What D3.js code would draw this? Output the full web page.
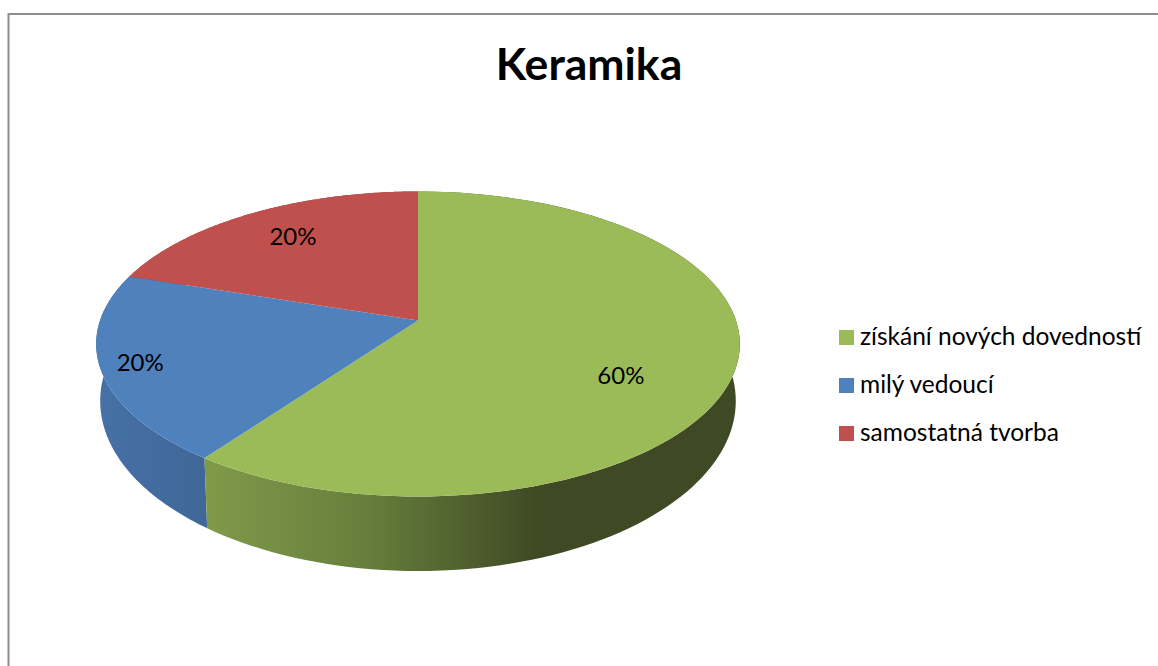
<!DOCTYPE html>
<html><head><meta charset="utf-8">
<script src="https://cdn.jsdelivr.net/npm/d3@7/dist/d3.min.js"></script>
<style>html,body{margin:0;padding:0;background:#fff}svg{display:block}text{font-family:Lato,"Open Sans",sans-serif;fill:#000}</style>
</head><body><script>
const title = "Keramika";
const categories = ["získání nových dovedností", "milý vedoucí", "samostatná tvorba"];
const shares = [60, 20, 20];
const colors = ["#9BBB59", "#4F81BD", "#C0504D"];

const W = 1158, H = 666;
const labelRadius = [0.65, 0.88, 0.73], labelShiftY = [25, 0, -3];
const svg = d3.select("body").append("svg").attr("width", W).attr("height", H);

const defs = svg.append("defs");
function grad(id, x1, x2, stops) {
  const g = defs.append("linearGradient").attr("id", id).attr("gradientUnits", "userSpaceOnUse")
    .attr("x1", x1).attr("x2", x2).attr("y1", 0).attr("y2", 0);
  stops.forEach(s => g.append("stop").attr("offset", s[0]).attr("stop-color", s[1]));
}
grad("side0", 205, 740, [[0, "#7F9A4A"], [0.30, "#667F3C"], [0.62, "#3F4A24"], [1, "#3F4923"]]);
grad("side1", 100, 210, [[0, "#4671A6"], [1, "#3F6696"]]);
grad("side2", 100, 420, [[0, "#9A403E"], [1, "#9A403E"]]);

// perspective projection of the unit circle
const topDisc = {cx: 418, y0: 320.5, A: 318, B: 148.9, k: -0.154};
const botDisc = {cx: 418, y0: 374.8, A: 314, B: 166, k: -0.154};
const proj = (p, a, r = 1) => {
  const u = Math.sin(a) * r, v = -Math.cos(a) * r, w = 1 + p.k * v;
  return [p.cx + p.A * u / w, p.y0 + p.B * v / w];
};
const arcAngles = (a0, a1) => d3.range(0, 121).map(i => a0 + (a1 - a0) * i / 120);
const line = d3.line();

const pie = d3.pie().sort(null)(shares);

// sides, back to front
const g = svg.append("g");
[2, 1, 0].forEach(i => {
  const s = pie[i], as = arcAngles(s.startAngle, s.endAngle);
  const pts = as.map(a => proj(topDisc, a)).concat(as.slice().reverse().map(a => proj(botDisc, a)));
  g.append("path").attr("d", line(pts) + "Z").attr("fill", `url(#side${i})`);
});
// top faces
pie.forEach((s, i) => {
  const pts = [[topDisc.cx, topDisc.y0]].concat(arcAngles(s.startAngle, s.endAngle).map(a => proj(topDisc, a)));
  g.append("path").attr("d", line(pts) + "Z").attr("fill", colors[i]);
});
// value labels
pie.forEach((s, i) => {
  const p = proj(topDisc, (s.startAngle + s.endAngle) / 2, labelRadius[i]);
  g.append("text").attr("x", p[0]).attr("y", p[1] + labelShiftY[i] + 8)
    .attr("text-anchor", "middle").attr("font-size", 24).text(shares[i] + "%");
});

// frame
svg.append("path").attr("d", `M${W},14H8.5V${H}`).attr("fill", "none").attr("stroke", "#8E8E8E").attr("stroke-width", 2);

// title
svg.append("text").attr("x", 589).attr("y", 80).attr("text-anchor", "middle")
  .attr("font-size", 44.5).attr("font-weight", 700).text(title);

// legend
const legendY = d3.scalePoint().domain(categories).range([345, 441]);
const leg = svg.append("g").selectAll("g").data(categories).join("g");
leg.append("rect").attr("x", 839).attr("y", d => legendY(d) - 15).attr("width", 15).attr("height", 15)
  .attr("fill", (d, i) => colors[i]);
leg.append("text").attr("x", 860).attr("y", d => legendY(d)).attr("font-size", 24.5).text(d => d);
</script></body></html>
